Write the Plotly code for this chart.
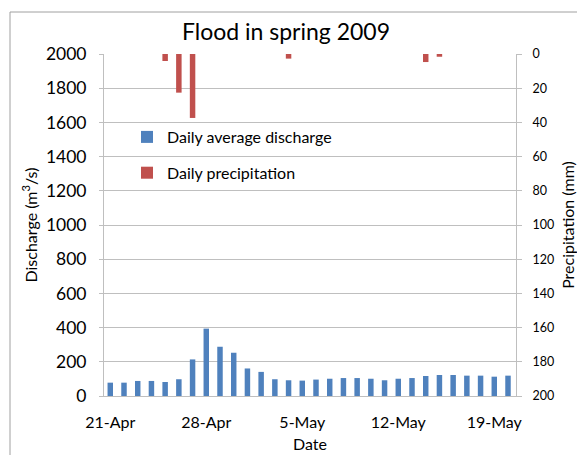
import pandas as pd
import plotly.graph_objects as go

dates = pd.date_range("2009-04-21", "2009-05-20", freq="D")
discharge = [78, 78, 88, 88, 82, 98, 214, 394, 288, 253, 161, 141, 98, 92,
             90, 96, 101, 105, 105, 101, 92, 101, 105, 117, 123, 123, 119, 119, 113, 119]
precip_dates = ["2009-04-25", "2009-04-26", "2009-04-27", "2009-05-04", "2009-05-14", "2009-05-15"]
precip = [4.1, 22.6, 37.4, 2.7, 4.7, 1.6]
x_ticks = ["2009-04-21", "2009-04-28", "2009-05-05", "2009-05-12", "2009-05-19"]
x_tick_labels = ["21-Apr", "28-Apr", "5-May", "12-May", "19-May"]

BLUE = "#4f81bd"
RED = "#c0504d"
GRID = "#bfbfbf"
FONT = "Lato, sans-serif"
day_ms = 86400000

# page body has an 8px default margin; work in figure coordinates (ref - 8)
W, H = 577, 447
L, T, R, B = 96, 46, 508, 388
PW, PH = R - L, B - T

fig = go.Figure()
fig.add_trace(go.Bar(x=dates, y=discharge, name="Daily average discharge",
                     marker=dict(color=BLUE, line=dict(width=0)), width=0.4 * day_ms,
                     legendgroup="a"))
fig.add_trace(go.Bar(x=pd.to_datetime(precip_dates), y=precip, name="Daily precipitation",
                     marker=dict(color=RED, line=dict(width=0)), width=0.4 * day_ms,
                     yaxis="y2", legendgroup="b"))

fig.update_layout(
    width=W, height=H,
    margin=dict(l=L, r=W - R, t=T, b=H - B),
    paper_bgcolor="white", plot_bgcolor="white",
    font=dict(family=FONT, size=16, color="#000000"),
    barmode="overlay",
    title=dict(text="Flood in spring 2009", x=(286 - 8) / W, xref="container", xanchor="center",
               y=1 - (32 - 8) / H, yanchor="middle", yref="container",
               font=dict(size=23, family=FONT)),
    xaxis=dict(type="date", range=["2009-04-20 13:00", "2009-05-20 14:00"],
               tickvals=x_ticks, ticktext=x_tick_labels, ticks="",
               ticklabelstandoff=12, automargin=False,
               showline=True, linecolor=GRID, linewidth=1, showgrid=False,
               title=dict(text="Date", standoff=8, font=dict(size=16)),
               tickfont=dict(size=16)),
    yaxis=dict(range=[0, 2000], dtick=200, showgrid=True, gridcolor=GRID, gridwidth=1,
               showline=True, linecolor=GRID, ticks="outside", ticklen=4, tickcolor=GRID,
               ticklabelstandoff=9, automargin=False,
               title=dict(text="Discharge (m<sup>3</sup>/s)", standoff=4, font=dict(size=16)),
               tickfont=dict(size=17.5), zeroline=False),
    yaxis2=dict(range=[200, 0], dtick=20, overlaying="y", side="right", showgrid=False,
                showline=True, linecolor=GRID, ticks="outside", ticklen=5, tickcolor=GRID,
                ticklabelstandoff=8, automargin=False,
                title=dict(text="Precipitation (mm)", standoff=9, font=dict(size=16)),
                tickfont=dict(size=12.5), zeroline=False),
    legend=dict(x=(127 - 8 - L) / PW, y=(B - (120 - 8)) / PH, xanchor="left", yanchor="top",
                bgcolor="rgba(0,0,0,0)", font=dict(size=16), traceorder="grouped",
                tracegroupgap=12, itemwidth=30),
    showlegend=True,
    shapes=[dict(type="rect", xref="paper", yref="paper",
                 x0=(10 - 8 - L) / PW, x1=(600 - L) / PW,
                 y0=(B - 470) / PH, y1=(B - (12 - 8)) / PH,
                 line=dict(color="#a0a0a0", width=1), fillcolor="rgba(0,0,0,0)", layer="below")],
)

fig.write_html("out.html")
